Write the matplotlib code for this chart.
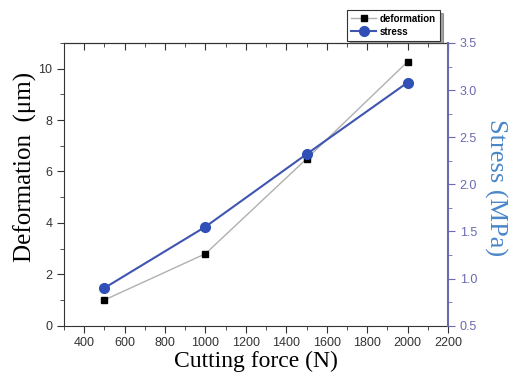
import matplotlib
matplotlib.use("Agg")
import matplotlib.pyplot as plt
from matplotlib.ticker import MultipleLocator

force = [500, 1000, 1500, 2000]
deformation = [1.0, 2.8, 6.49, 10.27]
stress = [0.90, 1.55, 2.32, 3.08]

x_label = "Cutting force (N)"
y_left_label = "Deformation  (μm)"
y_right_label = "Stress (MPa)"

sans = ["Liberation Sans", "DejaVu Sans"]
serif = ["Liberation Serif", "DejaVu Serif"]

fig = plt.figure(figsize=(5.13, 3.78), dpi=100)
ax = fig.add_axes([0.1248, 0.1384, 0.7485, 0.748])
ax2 = ax.twinx()

l1, = ax.plot(force, deformation, color="#b0b0b0", lw=1.0, marker="s",
              markersize=4.5, markerfacecolor="black", markeredgecolor="black",
              label="deformation", zorder=3)
l2, = ax2.plot(force, stress, color="#3f55b0", lw=1.5, marker="o",
               markersize=7, markerfacecolor="#3050b8", markeredgecolor="#3050b8",
               label="stress", zorder=4)

ax.set_xlim(300, 2200)
ax.set_ylim(0, 11)
ax2.set_ylim(0.5, 3.5)

ax.xaxis.set_major_locator(MultipleLocator(200))
ax.xaxis.set_minor_locator(MultipleLocator(100))
ax.yaxis.set_major_locator(MultipleLocator(2))
ax.yaxis.set_minor_locator(MultipleLocator(1))
ax2.yaxis.set_major_locator(MultipleLocator(0.5))
ax2.yaxis.set_minor_locator(MultipleLocator(0.25))

axis_col = "#333333"
right_col = "#6a6ab0"
for s in ["left", "bottom", "top"]:
    ax.spines[s].set_color(axis_col)
ax.spines["right"].set_visible(False)
for s in ["left", "bottom", "top"]:
    ax2.spines[s].set_visible(False)
ax2.spines["right"].set_color(right_col)
ax2.spines["right"].set_linewidth(1.5)

ax.tick_params(axis="both", which="major", direction="out", length=5,
               color=axis_col, labelcolor=axis_col, labelsize=9)
ax.tick_params(axis="both", which="minor", direction="out", length=3, color=axis_col)
ax2.tick_params(axis="y", which="major", direction="out", length=5,
                color=right_col, labelcolor=right_col, labelsize=9)
ax2.tick_params(axis="y", which="minor", direction="out", length=3, color=right_col)

# top ticks pointing inward
top = ax.secondary_xaxis("top")
top.xaxis.set_major_locator(MultipleLocator(200))
top.xaxis.set_minor_locator(MultipleLocator(100))
top.tick_params(which="major", direction="in", length=5, color=axis_col, labeltop=False)
top.tick_params(which="minor", direction="in", length=3, color=axis_col)
top.spines["top"].set_color(axis_col)

for lab in ax.get_xticklabels() + ax.get_yticklabels() + ax2.get_yticklabels():
    lab.set_family(sans)

ax.set_xlabel(x_label, family=serif, fontsize=17, color="black", labelpad=1)
ax.set_ylabel(y_left_label, family=serif, fontsize=18, color="black")
ax.yaxis.set_label_coords(-0.07, 0.56)
ax2.set_ylabel(y_right_label, family=serif, fontsize=19, color="#4a86c8",
               rotation=270, labelpad=22)
ax2.yaxis.set_label_coords(1.155, 0.49)

leg = fig.legend(handles=[l1, l2], loc="upper left",
                 bbox_to_anchor=(347 / 513, 1 - 10 / 378),
                 prop={"family": sans, "size": 7, "weight": "bold"},
                 frameon=True, fancybox=False, shadow=True, handlelength=2.6,
                 borderpad=0.4, labelspacing=0.3, handletextpad=0.4,
                 borderaxespad=0)
leg.get_frame().set_edgecolor("#333333")
leg.get_frame().set_linewidth(0.8)

fig.savefig("out.png", dpi=100)
